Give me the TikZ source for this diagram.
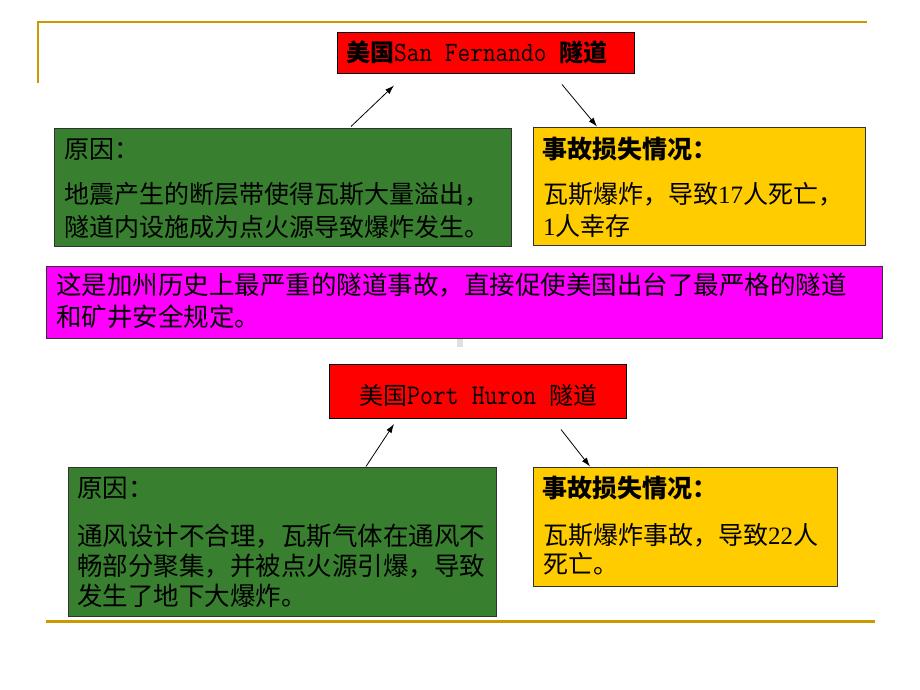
\documentclass[tikz,border=0pt]{standalone}
\usepackage{fontspec}
\setmainfont{Liberation Serif}
\newfontfamily\cjk{Noto Sans CJK SC}
\newfontfamily\lmono{Latin Modern Mono}[FakeStretch=0.88]
\newfontfamily\lser{Liberation Serif}
\usetikzlibrary{arrows.meta,calc}
\definecolor{gold}{RGB}{204,153,0}
\definecolor{boxgreen}{RGB}{56,128,48}
\definecolor{boxyellow}{RGB}{255,204,0}
\definecolor{boxred}{RGB}{255,0,0}
\definecolor{boxmag}{RGB}{255,0,255}
\definecolor{edge}{RGB}{50,50,50}
\tikzset{
  box/.style={draw=edge, line width=1pt, inner sep=0pt},
  txt/.style={anchor=base west, inner sep=0pt, text=black},
  f25/.style={font=\cjk\fontsize{25}{30}\selectfont},
  f255/.style={font=\cjk\fontsize{25.5}{30}\selectfont},
  f24/.style={font=\cjk\fontsize{24}{30}\selectfont},
  arr/.style={-{Latex[length=9pt,width=6pt]}, line width=0.8pt, black},
  goldline/.style={draw=gold, line width=2pt}
}
\begin{document}
\begin{tikzpicture}[x=1pt,y=-1pt]
\useasboundingbox (0,0) rectangle (920,690);
\fill[white] (0,0) rectangle (920,690);

% decorative lines
\draw[goldline] (38,22) -- (867,22);
\draw[goldline] (38,21) -- (38,83);
\draw[draw=gold, line width=3pt] (46,621) -- (875,621);
\fill[gray!25] (457,339) rectangle (463,347);

% boxes
\node[box, fill=boxred, draw=black, minimum width=297pt, minimum height=41pt] (t1) at (485.5,53.5) {};
\node[box, fill=boxgreen, minimum width=457pt, minimum height=118pt] (g1) at (282.5,187.5) {};
\node[box, fill=boxyellow, minimum width=332pt, minimum height=118pt] (y1) at (699,186) {};
\node[box, fill=boxmag, minimum width=835.5pt, minimum height=72pt] (m) at (464.25,302) {};
\node[box, fill=boxred, draw=black, minimum width=297pt, minimum height=53.5pt] (t2) at (477.5,391.25) {};
\node[box, fill=boxgreen, minimum width=428.5pt, minimum height=149pt] (g2) at (282.25,541.5) {};
\node[box, fill=boxyellow, minimum width=304pt, minimum height=119pt] (y2) at (685,526.5) {};

% title texts
\node[txt, f24] (t1t) at (346,62) {{\bfseries 美国}{\lmono\fontsize{28}{30}\selectfont San Fernando }{\bfseries 隧道}};
\node[txt, f24] (t2t) at (359,404) {美国{\lmono\fontsize{28.5}{30}\selectfont Port Huron }隧道};

% green 1
\node[txt, f25] (g1a) at (64,158.5) {原因：};
\node[txt, f25] (g1b) at (64,203.5) {地震产生的断层带使得瓦斯大量溢出，};
\node[txt, f25] (g1c) at (64,236.5) {隧道内设施成为点火源导致爆炸发生。};

% yellow 1
\node[txt, f25] (y1a) at (542,158) {\bfseries 事故损失情况：};
\node[txt, f25] (y1b) at (543,203) {瓦斯爆炸，导致{\lser 17}人死亡，};
\node[txt, f25] (y1c) at (543,235.5) {{\lser 1}人幸存};

% magenta
\node[txt, f255] (ma) at (56,294.5) {这是加州历史上最严重的隧道事故，直接促使美国出台了最严格的隧道};
\node[txt, f255] (mb) at (56,326.5) {和矿井安全规定。};

% green 2
\node[txt, f255] (g2a) at (77,497) {原因：};
\node[txt, f255] (g2b) at (77,545.5) {通风设计不合理，瓦斯气体在通风不};
\node[txt, f255] (g2c) at (77,575.5) {畅部分聚集，并被点火源引爆，导致};
\node[txt, f255] (g2d) at (77,605.5) {发生了地下大爆炸。};

% yellow 2
\node[txt, f25] (y2a) at (542,497) {\bfseries 事故损失情况：};
\node[txt, f25] (y2b) at (543,544.5) {瓦斯爆炸事故，导致{\lser 22}人};
\node[txt, f25] (y2c) at (543,573) {死亡。};

% arrows
\draw[arr] ($(g1.north)+(68.5,-1.5)$) -- ($(t1.south)+(-91.5,11)$);
\draw[arr] ($(t1.south)+(76.5,10)$) -- ($(y1.north)+(-102,0)$);
\draw[arr] ($(g2.north)+(83.75,0)$) -- ($(t2.south)+(-83.5,5.5)$);
\draw[arr] ($(t2.south)+(83.5,11)$) -- ($(y2.north)+(-95,0)$);
\end{tikzpicture}
\end{document}
